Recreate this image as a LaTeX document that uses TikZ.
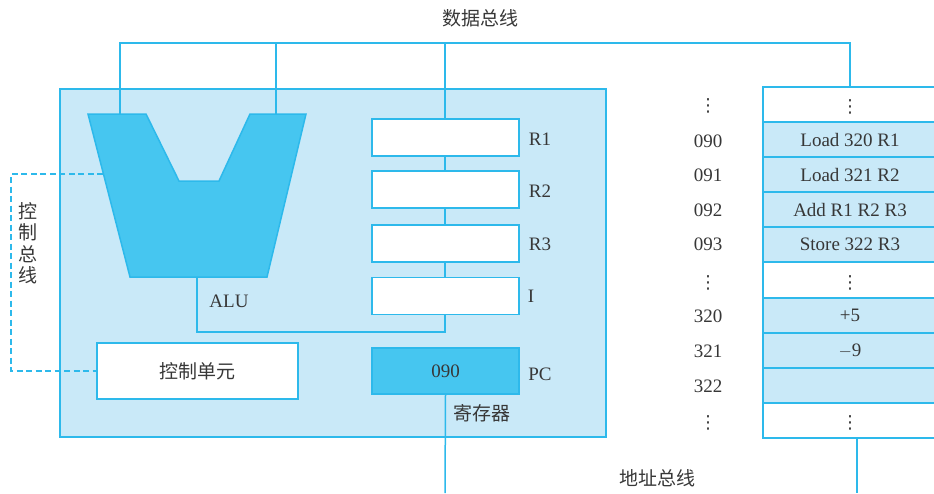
\documentclass[tikz,border=0pt]{standalone}
\usepackage{fontspec}
\setmainfont{Liberation Serif}
\newfontfamily\cjk{Noto Sans CJK SC}
\newfontfamily\djv{DejaVu Sans}
\usetikzlibrary{calc}
\definecolor{bline}{RGB}{45,185,235}
\definecolor{blight}{RGB}{201,233,248}
\definecolor{bdark}{RGB}{70,198,240}
\definecolor{txt}{RGB}{55,55,55}
\tikzset{
  bus/.style={draw=bline, line width=1.5pt},
  ctrl/.style={draw=bline, line width=1.5pt, dash pattern=on 6pt off 3.5pt},
  reg/.style={draw=bline, line width=1.5pt, fill=white, minimum width=147pt, minimum height=37pt, inner sep=0pt},
  memrow/.style={draw=bline, line width=1.5pt, minimum width=174pt, minimum height=35pt, inner sep=0pt, font=\fontsize{19}{22}\selectfont, text=txt},
  lbl/.style={font=\fontsize{19}{22}\selectfont, text=txt, inner sep=0pt},
  dotlbl/.style={text=txt, inner sep=0pt, font=\djv\fontsize{18}{18}\selectfont},
  cjklbl/.style={font=\cjk\fontsize{19}{22}\selectfont, text=txt, inner sep=0pt},
}
\begin{document}
\begin{tikzpicture}[x=1pt,y=-1pt]
\useasboundingbox (0,0) rectangle (934,493);
\clip (0,0) rectangle (934,493);

% CPU box
\node[draw=bline, line width=1.5pt, fill=blight, minimum width=546pt, minimum height=348pt, inner sep=0pt] (cpu) at (333,263) {};

% coordinates
\coordinate (alu1) at (120,114);
\coordinate (alu2) at (276,114);
\coordinate (alub) at (197,277);
\coordinate (busL) at (120,43);
\coordinate (busM2) at (276,43);
\coordinate (busC) at (445,43);
\coordinate (busR) at (850,43);
\coordinate (join) at (445,332);
\coordinate (joinL) at (197,332);
\coordinate (abL) at (445,493);
\coordinate (abR) at (857,493);
\coordinate (cbA) at (103,174);
\coordinate (cbT) at (11,174);
\coordinate (cbB) at (11,371);

% ALU
\draw[draw=bline, line width=1.5pt, fill=bdark, line join=miter]
  (88,114) -- (146,114) -- (179,181) -- (219,181) -- (250,114) -- (306,114) -- (267,277) -- (130,277) -- cycle;
\node[lbl] (alulbl) at (229,301) {ALU};

% memory rows
\node[memrow, fill=white] (m0) at (850,104.5) {};
\node[memrow, fill=blight] (m1) at (850,139.5) {Load 320 R1};
\node[memrow, fill=blight] (m2) at (850,174.5) {Load 321 R2};
\node[memrow, fill=blight] (m3) at (850,209.5) {Add R1 R2 R3};
\node[memrow, fill=blight] (m4) at (850,244.5) {Store 322 R3};
\node[memrow, fill=white] (m5) at (850,280) {};
\node[memrow, fill=blight] (m6) at (850,315.5) {+5};
\node[memrow, fill=blight] (m7) at (850,350.5) {$-$9};
\node[memrow, fill=blight] (m8) at (850,385.5) {};
\node[memrow, fill=white] (m9) at (850,420.5) {};
\node[dotlbl] (d0) at (850,107) {⋮};
\node[dotlbl] (d5) at (850,283) {⋮};
\node[dotlbl] (d9) at (850,423) {⋮};

% data bus
\draw[bus] (alu1) -- (busL) -- (busR) -- (m0.north);
\draw[bus] (alu2) -- (busM2);
\draw[bus] (busC) -- (join) -- (joinL) -- (alub);

% registers
\node[reg] (r1) at (445.5,137.5) {};
\node[reg] (r2) at (445.5,189.5) {};
\node[reg] (r3) at (445.5,243.5) {};
\node[reg] (ri) at (445.5,296) {};
\node[reg, fill=bdark, minimum height=46pt, lbl] (pc) at (445.5,371) {090};
\node[lbl] (r1l) at (540,139) {R1};
\node[lbl] (r2l) at (540,191) {R2};
\node[lbl] (r3l) at (540,244) {R3};
\node[lbl] (ril) at (531,296) {I};
\node[lbl] (pcl) at (540,374) {PC};
\node[cjklbl] (regl) at (482,413) {寄存器};

% control unit
\node[draw=bline, line width=1.5pt, fill=white, minimum width=201pt, minimum height=56pt, inner sep=0pt, cjklbl] (cu) at (197.5,371) {控制单元};

% control bus
\draw[ctrl] (cbA) -- (cbT) -- (cbB) -- (cu.west);
\node[cjklbl, align=center, font=\cjk\fontsize{19}{21.5}\selectfont] (cbl) at (28,243) {控\\制\\总\\线};

% address bus
\draw[bus] (pc.south) -- (abL);
\draw[bus] (m9.south -| abR) -- (abR);

% address labels
\node[dotlbl] (a0) at (708,106) {⋮};
\node[lbl] (a1) at (708,141) {090};
\node[lbl] (a2) at (708,175) {091};
\node[lbl] (a3) at (708,210) {092};
\node[lbl] (a4) at (708,244) {093};
\node[dotlbl] (a5) at (708,283) {⋮};
\node[lbl] (a6) at (708,316) {320};
\node[lbl] (a7) at (708,351) {321};
\node[lbl] (a8) at (708,386) {322};
\node[dotlbl] (a9) at (708,423) {⋮};

% bus labels
\node[cjklbl] (dbl) at (480,18) {数据总线};
\node[cjklbl] (abl) at (657,478) {地址总线};
\end{tikzpicture}
\end{document}
